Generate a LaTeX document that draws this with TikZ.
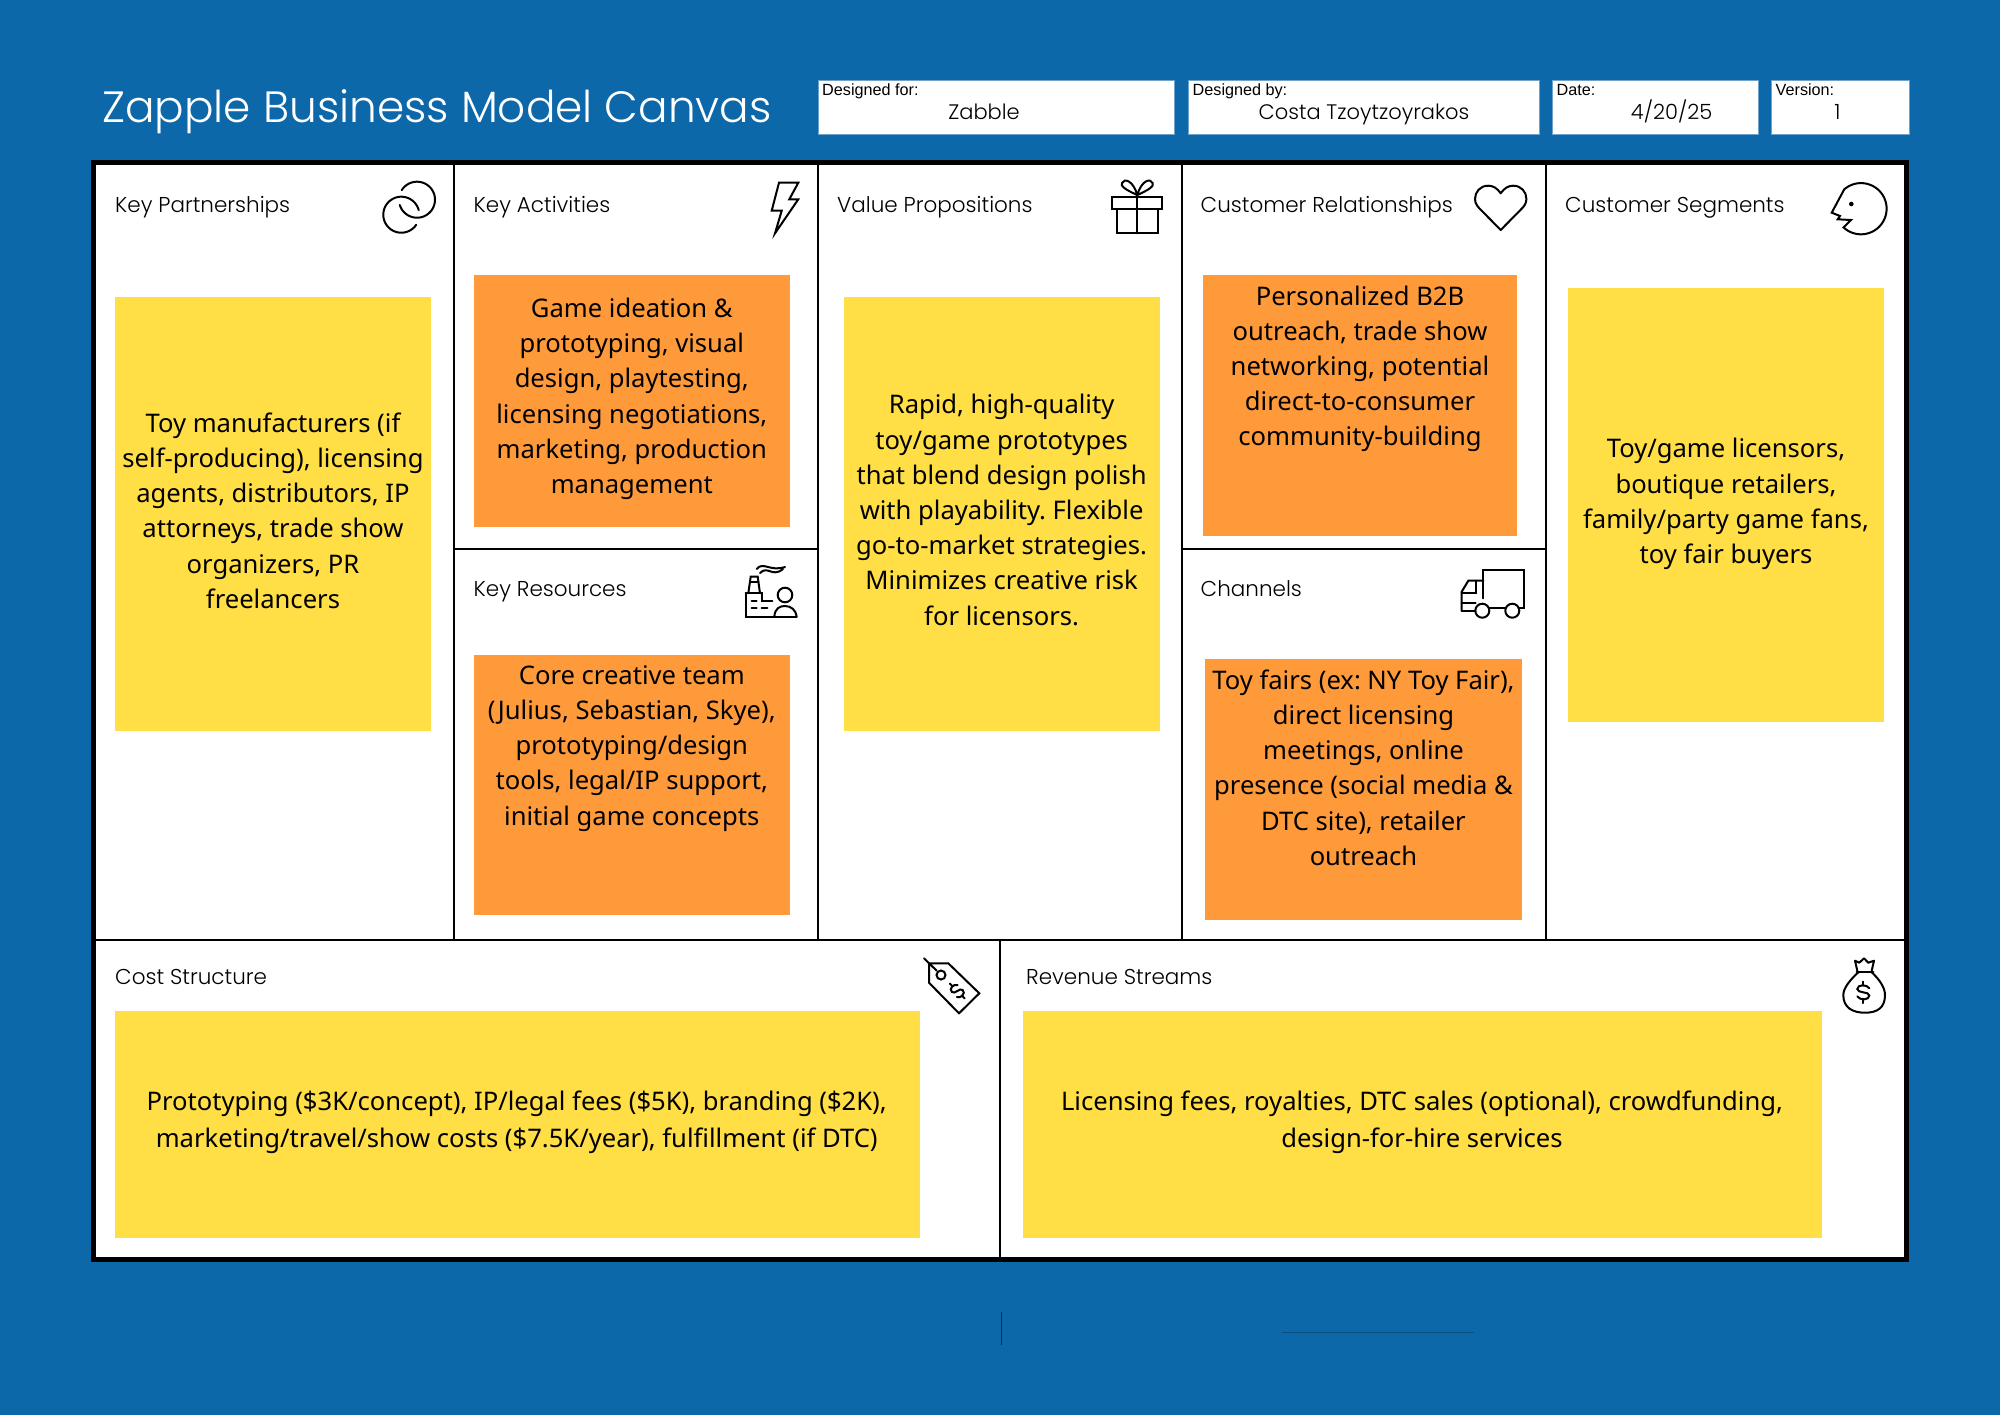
\documentclass[tikz,border=0pt]{standalone}
\usepackage{fontspec}
\setmainfont{Noto Sans}
\newfontfamily\hdfont{Poppins Light}
\newfontfamily\smfont{Liberation Sans}
\frenchspacing
\definecolor{bgblue}{HTML}{0D68AA}
\definecolor{noteyellow}{HTML}{FFDE46}
\definecolor{noteorange}{HTML}{FF9A3A}
\definecolor{edgeblue}{HTML}{6FA3CC}
\definecolor{darkblue}{HTML}{0A4F82}
\tikzset{
  gridline/.style={draw=black,line width=2pt},
  ico/.style={draw=black,line width=2pt,line cap=round,line join=miter,fill=none},
  notetext/.style={font=\fontsize{25.6}{35.2}\selectfont,align=center,text=black,inner sep=0pt},
  headtext/.style={font=\hdfont\fontsize{21.5}{26}\selectfont,anchor=base west,inner sep=0pt,text=black},
  smalltext/.style={font=\smfont\fontsize{16.2}{18}\selectfont,anchor=base west,inner sep=0pt,text=black},
  valtext/.style={font=\hdfont\fontsize{21}{26}\selectfont,anchor=base,inner sep=0pt,text=black},
  infobox/.style={fill=white,draw=edgeblue,line width=0.8pt}
}
\newcommand{\ns}{\rule[-9pt]{0pt}{28pt}}
\newcommand{\arcpx}[5]{plot[domain=#4:#5,samples=60,smooth] ({#1+#3*cos(\x)},{#2+#3*sin(\x)})}
\newcommand{\dollarmark}[5]{% cx cy rot halfheight halfwidth
  \begin{scope}[shift={(#1,#2)},rotate=#3]
    \draw[ico] (0,-#4) -- (0,-0.62*#4);
    \draw[ico] (0,0.62*#4) -- (0,#4);
    \draw[ico] (#5,-0.38*#4) .. controls (0.6*#5,-0.75*#4) and (-#5,-0.75*#4) .. (-#5,-0.3*#4)
      .. controls (-#5,0.1*#4) and (#5,-0.1*#4) .. (#5,0.3*#4)
      .. controls (#5,0.75*#4) and (-0.6*#5,0.75*#4) .. (-#5,0.38*#4);
  \end{scope}}
\begin{document}
\begin{tikzpicture}[x=1pt,y=-1pt]
\useasboundingbox (0,0) rectangle (2000,1414);
\fill[bgblue] (-3,-3) rectangle (2003,1417);

% title
\node[font=\hdfont\fontsize{43.8}{50}\selectfont,text=white,anchor=base west,inner sep=0pt] (title) at (102,122.3) {Zapple Business Model Canvas};

% info boxes
\path[infobox] (818,80.3) rectangle (1174.7,134.3);
\path[infobox] (1188,80.3) rectangle (1539,134.3);
\path[infobox] (1552,80.3) rectangle (1758,134.3);
\path[infobox] (1771,80.3) rectangle (1909,134.3);
\node[smalltext] (forlbl) at (822,95.5) {Designed for:};
\node[smalltext] (bylbl) at (1192.5,95.5) {Designed by:};
\node[smalltext] (datelbl) at (1556.5,95.5) {Date:};
\node[smalltext] (verlbl) at (1775.5,95.5) {Version:};
\node[valtext] (forval) at (984,119) {Zabble};
\node[valtext] (byval) at (1364,119) {Costa Tzoytzoyrakos};
\node[valtext] (dateval) at (1671.6,119) {4/20/25};
\node[valtext] (verval) at (1837.4,119) {1};

% canvas
\fill[white] (93,162) rectangle (1906.5,1259);
\draw[gridline] (454,160) -- (454,940);
\draw[gridline] (818,160) -- (818,940);
\draw[gridline] (1182,160) -- (1182,940);
\draw[gridline] (1546,160) -- (1546,940);
\draw[gridline] (454,549) -- (818,549);
\draw[gridline] (1182,549) -- (1546,549);
\draw[gridline] (93,939.5) -- (1906.5,939.5);
\draw[gridline] (1000,939.5) -- (1000,1261);
\draw[draw=black,line width=5pt] (93,162) rectangle (1906.5,1259);

% notes
\fill[noteyellow] (115,297) rectangle (431,731);
\fill[noteorange] (473.7,275.3) rectangle (790,527);
\fill[noteorange] (473.7,654.5) rectangle (790,914.5);
\fill[noteyellow] (843.7,297) rectangle (1160,731);
\fill[noteorange] (1202.8,275.3) rectangle (1517,536);
\fill[noteorange] (1205,659.3) rectangle (1522,920);
\fill[noteyellow] (1568,288) rectangle (1884,722);
\fill[noteyellow] (115,1011) rectangle (919.6,1238);
\fill[noteyellow] (1023,1011) rectangle (1822,1238);

% headings
\node[headtext] (kph) at (115,212) {Key Partnerships};
\node[headtext] (kah) at (473.5,212) {Key Activities};
\node[headtext] (vph) at (837,212) {Value Propositions};
\node[headtext] (crh) at (1200.5,212) {Customer Relationships};
\node[headtext] (csh) at (1565,212) {Customer Segments};
\node[headtext] (krh) at (473.5,596) {Key Resources};
\node[headtext] (chh) at (1200.5,596) {Channels};
\node[headtext] (csth) at (115,984) {Cost Structure};
\node[headtext] (rvh) at (1026,984) {Revenue Streams};

% note texts
\node[notetext] (kpt) at (273,515) {\ns Toy manufacturers (if\\self-producing), licensing\\agents, distributors, IP\\attorneys, trade show\\organizers, PR\\freelancers\ns};
\node[notetext] (kat) at (631.8,400.2) {\ns Game ideation \&\\prototyping, visual\\design, playtesting,\\licensing negotiations,\\marketing, production\\management\ns};
\node[notetext] (krt) at (631.8,749.7) {\ns Core creative team\\(Julius, Sebastian, Skye),\\prototyping/design\\tools, legal/IP support,\\initial game concepts\ns};
\node[notetext] (vpt) at (1001.6,514.3) {\ns Rapid, high-quality\\toy/game prototypes\\that blend design polish\\with playability. Flexible\\go-to-market strategies.\\Minimizes creative risk\\for licensors.\ns};
\node[notetext] (crt) at (1360,370.2) {\ns Personalized B2B\\outreach, trade show\\networking, potential\\direct-to-consumer\\community-building\ns};
\node[notetext] (cht) at (1363.5,772) {\ns Toy fairs (ex: NY Toy Fair),\\direct licensing\\meetings, online\\presence (social media \&\\DTC site), retailer\\outreach\ns};
\node[notetext] (cst) at (1726,505.4) {\ns Toy/game licensors,\\boutique retailers,\\family/party game fans,\\toy fair buyers\ns};
\node[notetext] (cstt) at (516.7,1124) {\ns Prototyping (\$3K/concept), IP/legal fees (\$5K), branding (\$2K),\\[1.8pt]marketing/travel/show costs (\$7.5K/year), fulfillment (if DTC)\ns};
\node[notetext] (rvt) at (1422,1124) {\ns Licensing fees, royalties, DTC sales (optional), crowdfunding,\\[1.8pt]design-for-hire services\ns};

% icon: interlocking rings
\draw[ico] \arcpx{417}{199.7}{18}{212}{523};
\draw[ico] \arcpx{401.3}{214.7}{18}{-14.5}{-326};

% icon: lightning
\draw[ico] (779,182.7) -- (798.3,182.7) -- (789.3,199.3) -- (798.3,199.3) -- (775,233.3) -- (781.7,210.7) -- (771.7,210.7) -- cycle;

% icon: gift
\draw[ico] (1112.3,196.7) rectangle (1162,209);
\draw[ico] (1116.7,209) rectangle (1158.3,233.3);
\draw[ico] (1137.3,195) -- (1137.3,233.3);
\draw[ico] (1137.3,195) .. controls (1126,190) and (1120,186) .. (1122,183) .. controls (1124,178) and (1133,180) .. (1137.3,195);
\draw[ico] (1137.3,195) .. controls (1148.6,190) and (1154.6,186) .. (1152.6,183) .. controls (1150.6,178) and (1141.6,180) .. (1137.3,195);

% icon: heart
\draw[ico,line join=round] (1500.7,193.3) .. controls (1497,188) and (1493,185.7) .. (1488.3,185.7) .. controls (1480,185.7) and (1475,192) .. (1475,199) .. controls (1475,204) and (1478,207) .. (1481,210) -- (1500.7,230) -- (1520.4,210) .. controls (1523.4,207) and (1526.4,204) .. (1526.4,199) .. controls (1526.4,192) and (1521.4,185.7) .. (1513.1,185.7) .. controls (1508.4,185.7) and (1504.4,188) .. cycle;

% icon: face
\draw[ico] plot[domain=133:-131,samples=60,smooth] ({1861+25.6*cos(\x)},{208.7+25.6*sin(\x)}) -- (1831.7,212.7) -- (1840,216) -- (1837.7,219.3) -- (1851,220) -- cycle;
\fill[black] (1851.3,204) circle[radius=2.3];

% icon: factory and person
\draw[ico] (745.7,593.3) -- (745.7,616.7) -- (796.7,616.7);
\draw[ico] (745.7,593.3) -- (761.7,593.3) -- (761.7,600.7) -- (772.3,600.7);
\draw[ico] (748.3,593.3) -- (750.7,576.7) -- (757.7,576.7) -- (760,593.3);
\draw[ico] (750,581.7) -- (758.3,581.7);
\draw[ico] (751.7,600.7) -- (756.7,600.7);
\draw[ico] (751.7,608.3) -- (756.7,608.3);
\draw[ico] (761.7,608.3) -- (767.3,608.3);
\draw[ico] (785,595) circle[radius=7.3];
\draw[ico] (774.3,616.7) .. controls (775,608) and (780,606) .. (785,606) .. controls (791,606) and (796,610) .. (796.7,616.7);
\draw[ico] (756.7,569) .. controls (763,561) and (770,572) .. (785,567);
\draw[ico] (760,573) .. controls (768,565) and (772,578) .. (783,569);

% icon: truck
\draw[ico] (1483.3,598.3) -- (1483.3,570) -- (1524.3,570) -- (1524.3,608.3) -- (1518.3,608.3);
\draw[ico] (1489.3,608.3) -- (1505,608.3);
\draw[ico] (1482.3,610.7) circle[radius=7];
\draw[ico] (1512.3,610.7) circle[radius=7];
\draw[ico] (1461.7,610.7) -- (1461.7,591.7) -- (1468.3,580.7) -- (1483.3,580.7);
\draw[ico] (1476,580.7) -- (1476,593.3) -- (1461.7,593.3);
\draw[ico] (1461.7,603.3) -- (1475.7,603.3);
\draw[ico] (1461.7,610.7) -- (1475.7,610.7);

% icon: price tag
\draw[ico] (929,963.3) -- (948.3,963.3) -- (979.3,993.3) -- (959,1013.3) -- (929,982.7) -- cycle;
\draw[ico] (924,958.3) -- (936.7,970.7);
\draw[ico] (941,975) circle[radius=4.5];
\dollarmark{957.3}{991}{45}{10.5}{4.5}

% icon: money bag
\draw[ico,line join=round] (1857.3,970.7) -- (1855,960.7) -- (1859.3,962.7) -- (1864,958.3) -- (1868.3,962.7) -- (1874,960.7) -- (1871.7,970.7);
\draw[ico] (1856.7,971.7) -- (1873.3,971.7);
\draw[ico] (1858.3,972.3) .. controls (1850,980) and (1843.3,988) .. (1843.3,995) .. controls (1843.3,1008) and (1853,1012.7) .. (1865,1012.7) .. controls (1877,1012.7) and (1885,1008) .. (1885,995) .. controls (1885,988) and (1880,980) .. (1871.7,972.3);
\dollarmark{1863.3}{992.3}{0}{10.8}{6}

% stray marks below canvas
\draw[draw=darkblue!60!black,line width=1pt] (1001.3,1312) -- (1001.3,1345.3);
\draw[draw=darkblue,line width=1pt] (1282,1332.3) -- (1473.7,1332.3);
\end{tikzpicture}
\end{document}
